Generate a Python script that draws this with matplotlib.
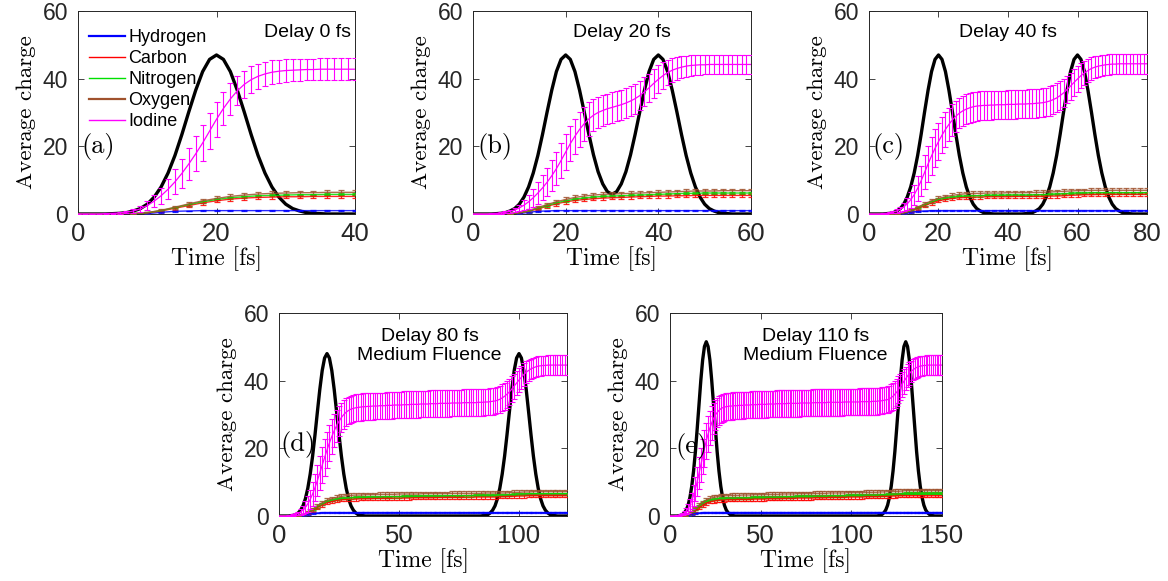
import numpy as np
import matplotlib
matplotlib.use("Agg")
import matplotlib.pyplot as plt
import matplotlib.transforms as mtransforms
from matplotlib.lines import Line2D

# ---------------- DATA ----------------
species = ["Hydrogen", "Carbon", "Nitrogen", "Oxygen", "Iodine"]
delay_labels = ["Delay 0 fs", "Delay 20 fs", "Delay 40 fs",
                "Delay 80 fs\nMedium Fluence", "Delay 110 fs\nMedium Fluence"]
panel_letters = ["(a)", "(b)", "(c)", "(d)", "(e)"]
x_max = [40, 60, 80, 120, 150]
x_ticks = [[0, 20, 40], [0, 20, 40, 60], [0, 20, 40, 60, 80], [0, 50, 100], [0, 50, 100, 150]]
y_ticks = [0, 20, 40, 60]

# ----- Panel (a) -----
iod_a = [0, 0, 0, 0, 0.1, 0.2, 0.3, 0.5, 0.9, 1.5,
         2.5, 3.8, 5.4, 7.3, 9.5, 12.0, 14.8, 17.8, 21.0, 24.5,
         28.0, 31.2, 34.0, 36.4, 38.3, 39.7, 40.7, 41.4, 41.9, 42.2,
         42.4, 42.5, 42.6, 42.7, 42.7, 42.8, 42.8, 42.8, 42.8, 42.8, 42.8]
iod_a_err = [0, 0, 0, 0, 0.1, 0.1, 0.2, 0.3, 0.5, 0.8,
             1.2, 1.7, 2.3, 3.0, 3.7, 4.3, 4.8, 5.2, 5.4, 5.4,
             5.2, 4.9, 4.6, 4.3, 4.1, 3.9, 3.7, 3.6, 3.5, 3.4,
             3.3, 3.3, 3.3, 3.2, 3.2, 3.2, 3.2, 3.2, 3.2, 3.2, 3.2]
pulse_a = [0, 0, 0, 0, 0, 0.1, 0.2, 0.4, 0.9, 1.6,
           2.9, 5.0, 8.0, 12.1, 17.3, 23.5, 30.2, 36.6, 42.1, 45.7,
           47.0, 45.7, 42.1, 36.6, 30.2, 23.5, 17.3, 12.1, 8.0, 5.0,
           2.9, 1.6, 0.9, 0.4, 0.2, 0.1, 0, 0, 0, 0, 0]
H_a = [0, 0, 0, 0, 0, 0.1, 0.5, 0.8, 0.9, 1.0,
       1.0, 1.0, 1.0, 1.0, 1.0, 1.0, 1.0, 1.0, 1.0, 1.0, 1.0]
H_a_err = [0, 0, 0, 0, 0, 0.05, 0.1, 0.1, 0.1, 0.1,
           0.1, 0.1, 0.1, 0.1, 0.1, 0.1, 0.1, 0.1, 0.1, 0.1, 0.1]
C_a = [0, 0, 0, 0, 0.1, 0.3, 0.9, 1.7, 2.5, 3.3,
       3.9, 4.4, 4.7, 4.9, 5.0, 5.1, 5.1, 5.2, 5.2, 5.2, 5.2]
C_a_err = [0, 0, 0, 0, 0.05, 0.15, 0.3, 0.4, 0.45, 0.5,
           0.5, 0.5, 0.5, 0.5, 0.5, 0.5, 0.5, 0.5, 0.5, 0.5, 0.5]
N_a = [0, 0, 0, 0, 0.1, 0.4, 1.0, 1.9, 2.8, 3.6,
       4.3, 4.8, 5.1, 5.4, 5.5, 5.6, 5.7, 5.7, 5.8, 5.8, 5.8]
N_a_err = [0, 0, 0, 0, 0.05, 0.1, 0.2, 0.25, 0.3, 0.3,
           0.3, 0.3, 0.3, 0.3, 0.3, 0.3, 0.3, 0.3, 0.3, 0.3, 0.3]
O_a = [0, 0, 0, 0, 0.1, 0.4, 1.1, 2.0, 3.0, 3.9,
       4.6, 5.2, 5.6, 5.9, 6.1, 6.2, 6.3, 6.3, 6.4, 6.4, 6.4]
O_a_err = [0, 0, 0, 0, 0.05, 0.2, 0.35, 0.45, 0.5, 0.55,
           0.6, 0.6, 0.6, 0.6, 0.6, 0.6, 0.6, 0.6, 0.6, 0.6, 0.6]

# ----- Panel (b) -----
iod_b = [0, 0, 0, 0, 0.1, 0.2, 0.3, 0.5, 0.8, 1.2,
         1.8, 2.6, 3.6, 4.8, 6.2, 7.7, 9.4, 11.3, 13.4, 15.8,
         18.3, 20.8, 23.0, 25.0, 26.7, 28.1, 29.2, 30.0, 30.6, 31.1,
         31.5, 31.9, 32.3, 32.8, 33.4, 34.1, 35.0, 36.1, 37.3, 38.6,
         39.8, 40.9, 41.8, 42.5, 43.0, 43.4, 43.7, 43.9, 44.0, 44.1,
         44.1, 44.2, 44.2, 44.2, 44.2, 44.2, 44.2, 44.2, 44.2, 44.2, 44.2]
iod_b_err = [0, 0, 0, 0, 0.1, 0.1, 0.2, 0.3, 0.4, 0.7,
             1.0, 1.5, 2.0, 2.6, 3.2, 3.7, 4.2, 4.6, 4.9, 5.1,
             5.2, 5.2, 5.2, 5.1, 5.0, 4.9, 4.8, 4.7, 4.6, 4.5,
             4.5, 4.5, 4.4, 4.4, 4.4, 4.4, 4.3, 4.3, 4.2, 4.2,
             4.1, 4.0, 3.8, 3.6, 3.4, 3.2, 3.1, 3.0, 2.9, 2.9,
             2.8, 2.8, 2.8, 2.8, 2.8, 2.8, 2.8, 2.8, 2.8, 2.8, 2.8]
pulse_b = [0, 0, 0, 0, 0, 0.1, 0.2, 0.4, 0.9, 1.6,
           2.9, 5.0, 8.0, 12.1, 17.3, 23.5, 30.2, 36.6, 42.1, 45.7,
           47.0, 45.7, 42.1, 36.6, 30.2, 23.6, 17.5, 12.5, 8.9, 6.6,
           5.8, 6.6, 8.9, 12.5, 17.5, 23.6, 30.2, 36.6, 42.1, 45.7,
           47.0, 45.7, 42.1, 36.6, 30.2, 23.5, 17.3, 12.1, 8.0, 5.0,
           2.9, 1.6, 0.9, 0.4, 0.2, 0.1, 0, 0, 0, 0, 0]
H_b = [0, 0, 0, 0, 0, 0.1, 0.5, 0.8, 0.9, 1.0,
       1.0, 1.0, 1.0, 1.0, 1.0, 1.0, 1.0, 1.0, 1.0, 1.0,
       1.0, 1.0, 1.0, 1.0, 1.0, 1.0, 1.0, 1.0, 1.0, 1.0, 1.0]
H_b_err = [0, 0, 0, 0, 0, 0.05, 0.1, 0.1, 0.1, 0.1,
           0.1, 0.1, 0.1, 0.1, 0.1, 0.1, 0.1, 0.1, 0.1, 0.1,
           0.1, 0.1, 0.1, 0.1, 0.1, 0.1, 0.1, 0.1, 0.1, 0.1, 0.1]
C_b = [0, 0, 0, 0, 0.1, 0.3, 0.8, 1.5, 2.3, 3.0,
       3.6, 4.0, 4.3, 4.5, 4.7, 4.8, 4.9, 5.0, 5.1, 5.2,
       5.3, 5.3, 5.4, 5.4, 5.5, 5.5, 5.5, 5.5, 5.5, 5.5, 5.5]
C_b_err = [0, 0, 0, 0, 0.05, 0.15, 0.3, 0.4, 0.45, 0.5,
           0.5, 0.5, 0.5, 0.5, 0.5, 0.5, 0.5, 0.5, 0.5, 0.5,
           0.5, 0.5, 0.5, 0.5, 0.5, 0.5, 0.5, 0.5, 0.5, 0.5, 0.5]
N_b = [0, 0, 0, 0, 0.1, 0.4, 0.9, 1.7, 2.5, 3.3,
       3.9, 4.4, 4.7, 5.0, 5.2, 5.3, 5.4, 5.5, 5.6, 5.7,
       5.8, 5.9, 6.0, 6.1, 6.1, 6.2, 6.2, 6.2, 6.2, 6.2, 6.2]
N_b_err = [0, 0, 0, 0, 0.05, 0.1, 0.2, 0.25, 0.3, 0.3,
           0.3, 0.3, 0.3, 0.3, 0.3, 0.3, 0.3, 0.3, 0.3, 0.3,
           0.3, 0.3, 0.3, 0.3, 0.3, 0.3, 0.3, 0.3, 0.3, 0.3, 0.3]
O_b = [0, 0, 0, 0, 0.1, 0.4, 1.0, 1.9, 2.8, 3.6,
       4.3, 4.9, 5.3, 5.6, 5.8, 5.9, 6.0, 6.1, 6.2, 6.3,
       6.4, 6.5, 6.6, 6.7, 6.8, 6.8, 6.8, 6.9, 6.9, 6.9, 6.9]
O_b_err = [0, 0, 0, 0, 0.05, 0.2, 0.35, 0.45, 0.5, 0.55,
           0.6, 0.6, 0.6, 0.6, 0.6, 0.6, 0.6, 0.6, 0.6, 0.6,
           0.6, 0.6, 0.6, 0.6, 0.6, 0.6, 0.6, 0.6, 0.6, 0.6, 0.6]

# ----- Panel (c) -----
iod_c = [0, 0, 0, 0, 0.1, 0.2, 0.4, 0.6, 0.9, 1.4,
         2.1, 3.0, 4.2, 5.7, 7.6, 9.8, 12.3, 14.8, 17.2, 19.4,
         21.4, 23.3, 25.0, 26.5, 27.8, 28.9, 29.8, 30.5, 31.0, 31.4,
         31.7, 31.9, 32.0, 32.1, 32.1, 32.2, 32.2, 32.3, 32.3, 32.3,
         32.4, 32.4, 32.4, 32.5, 32.5, 32.5, 32.6, 32.6, 32.7, 32.8,
         32.9, 33.1, 33.4, 33.8, 34.3, 35.0, 35.8, 36.8, 37.8, 38.9,
         39.9, 40.9, 41.7, 42.4, 43.0, 43.4, 43.7, 43.9, 44.1, 44.2,
         44.3, 44.3, 44.4, 44.4, 44.4, 44.4, 44.4, 44.4, 44.4, 44.4, 44.4]
iod_c_err = [0, 0, 0, 0, 0.1, 0.1, 0.2, 0.3, 0.5, 0.8,
             1.2, 1.7, 2.3, 3.0, 3.7, 4.4, 5.0, 5.4, 5.6, 5.6,
             5.5, 5.3, 5.1, 4.9, 4.7, 4.6, 4.5, 4.5, 4.4, 4.4,
             4.4, 4.3, 4.3, 4.3, 4.3, 4.3, 4.2, 4.2, 4.2, 4.2,
             4.2, 4.2, 4.2, 4.2, 4.2, 4.2, 4.2, 4.2, 4.2, 4.2,
             4.2, 4.2, 4.3, 4.3, 4.3, 4.3, 4.2, 4.1, 4.0, 3.9,
             3.8, 3.6, 3.5, 3.4, 3.3, 3.2, 3.1, 3.1, 3.0, 3.0,
             3.0, 3.0, 3.0, 3.0, 3.0, 3.0, 3.0, 3.0, 3.0, 3.0, 3.0]
pulse_c = [0, 0, 0, 0, 0, 0.1, 0.2, 0.4, 0.9, 1.6,
           2.9, 5.0, 8.0, 12.1, 17.3, 23.5, 30.2, 36.6, 42.1, 45.7,
           47.0, 45.7, 42.1, 36.6, 30.2, 23.5, 17.3, 12.1, 8.0, 5.0,
           2.9, 1.6, 0.9, 0.4, 0.2, 0.1, 0, 0, 0, 0,
           0, 0, 0, 0, 0, 0.1, 0.2, 0.4, 0.9, 1.6,
           2.9, 5.0, 8.0, 12.1, 17.3, 23.5, 30.2, 36.6, 42.1, 45.7,
           47.0, 45.7, 42.1, 36.6, 30.2, 23.5, 17.3, 12.1, 8.0, 5.0,
           2.9, 1.6, 0.9, 0.4, 0.2, 0.1, 0, 0, 0, 0, 0]
H_c = [0, 0, 0, 0, 0, 0.1, 0.5, 0.8, 0.9, 1.0,
       1.0, 1.0, 1.0, 1.0, 1.0, 1.0, 1.0, 1.0, 1.0, 1.0,
       1.0, 1.0, 1.0, 1.0, 1.0, 1.0, 1.0, 1.0, 1.0, 1.0,
       1.0, 1.0, 1.0, 1.0, 1.0, 1.0, 1.0, 1.0, 1.0, 1.0, 1.0]
H_c_err = [0, 0, 0, 0, 0, 0.05, 0.1, 0.1, 0.1, 0.1,
           0.1, 0.1, 0.1, 0.1, 0.1, 0.1, 0.1, 0.1, 0.1, 0.1,
           0.1, 0.1, 0.1, 0.1, 0.1, 0.1, 0.1, 0.1, 0.1, 0.1,
           0.1, 0.1, 0.1, 0.1, 0.1, 0.1, 0.1, 0.1, 0.1, 0.1, 0.1]
C_c = [0, 0, 0, 0, 0.1, 0.3, 0.9, 1.7, 2.5, 3.3,
       3.9, 4.3, 4.6, 4.8, 4.9, 5.0, 5.0, 5.1, 5.1, 5.1,
       5.1, 5.2, 5.2, 5.2, 5.2, 5.2, 5.3, 5.3, 5.4, 5.5,
       5.6, 5.7, 5.7, 5.8, 5.8, 5.8, 5.8, 5.8, 5.8, 5.8, 5.8]
C_c_err = [0, 0, 0, 0, 0.05, 0.15, 0.3, 0.4, 0.45, 0.5,
           0.5, 0.5, 0.5, 0.5, 0.5, 0.5, 0.5, 0.5, 0.5, 0.5,
           0.5, 0.5, 0.5, 0.5, 0.5, 0.5, 0.5, 0.5, 0.5, 0.5,
           0.5, 0.5, 0.5, 0.5, 0.5, 0.5, 0.5, 0.5, 0.5, 0.5, 0.5]
N_c = [0, 0, 0, 0, 0.1, 0.4, 1.0, 1.9, 2.8, 3.6,
       4.3, 4.7, 5.0, 5.2, 5.3, 5.4, 5.4, 5.5, 5.5, 5.5,
       5.6, 5.6, 5.6, 5.6, 5.7, 5.7, 5.8, 5.9, 6.0, 6.1,
       6.2, 6.2, 6.3, 6.3, 6.3, 6.3, 6.3, 6.3, 6.3, 6.3, 6.3]
N_c_err = [0, 0, 0, 0, 0.05, 0.1, 0.2, 0.25, 0.3, 0.3,
           0.3, 0.3, 0.3, 0.3, 0.3, 0.3, 0.3, 0.3, 0.3, 0.3,
           0.3, 0.3, 0.3, 0.3, 0.3, 0.3, 0.3, 0.3, 0.3, 0.3,
           0.3, 0.3, 0.3, 0.3, 0.3, 0.3, 0.3, 0.3, 0.3, 0.3, 0.3]
O_c = [0, 0, 0, 0, 0.1, 0.4, 1.1, 2.0, 3.0, 3.9,
       4.6, 5.1, 5.5, 5.8, 6.0, 6.1, 6.1, 6.2, 6.2, 6.2,
       6.3, 6.3, 6.3, 6.3, 6.4, 6.4, 6.5, 6.6, 6.7, 6.8,
       6.9, 6.9, 7.0, 7.0, 7.0, 7.0, 7.0, 7.0, 7.0, 7.0, 7.0]
O_c_err = [0, 0, 0, 0, 0.05, 0.2, 0.35, 0.45, 0.5, 0.55,
           0.6, 0.6, 0.6, 0.6, 0.6, 0.6, 0.6, 0.6, 0.6, 0.6,
           0.6, 0.6, 0.6, 0.6, 0.6, 0.6, 0.6, 0.6, 0.6, 0.6,
           0.6, 0.6, 0.6, 0.6, 0.6, 0.6, 0.6, 0.6, 0.6, 0.6, 0.6]

# ----- Panel (d) -----
iod_d = [0, 0, 0, 0, 0.1, 0.2, 0.3, 0.5, 0.8, 1.2,
         1.8, 2.6, 3.6, 4.9, 6.5, 8.4, 10.5, 12.7, 15.0, 17.3,
         19.5, 21.6, 23.5, 25.2, 26.7, 28.0, 29.1, 30.0, 30.7, 31.2,
         31.6, 31.8, 32.0, 32.1, 32.2, 32.3, 32.3, 32.4, 32.4, 32.5,
         32.5, 32.5, 32.6, 32.6, 32.6, 32.7, 32.7, 32.7, 32.8, 32.8,
         32.8, 32.8, 32.9, 32.9, 32.9, 33.0, 33.0, 33.0, 33.0, 33.1,
         33.1, 33.1, 33.1, 33.2, 33.2, 33.2, 33.2, 33.3, 33.3, 33.3,
         33.3, 33.3, 33.4, 33.4, 33.4, 33.4, 33.4, 33.5, 33.5, 33.5,
         33.5, 33.5, 33.5, 33.6, 33.6, 33.6, 33.7, 33.7, 33.8, 33.9,
         34.0, 34.2, 34.5, 34.9, 35.4, 36.0, 36.7, 37.5, 38.4, 39.3,
         40.2, 41.0, 41.8, 42.5, 43.0, 43.5, 43.8, 44.1, 44.3, 44.4,
         44.5, 44.5, 44.6, 44.6, 44.6, 44.6, 44.6, 44.6, 44.6, 44.6, 44.6]
iod_d_err = [0, 0, 0, 0, 0.1, 0.1, 0.2, 0.3, 0.5, 0.8,
             1.2, 1.7, 2.3, 2.9, 3.5, 4.1, 4.6, 5.0, 5.3, 5.4,
             5.4, 5.3, 5.1, 4.9, 4.7, 4.5, 4.4, 4.3, 4.2, 4.1,
             4.0, 4.0, 4.0, 4.0, 4.0, 4.0, 4.0, 4.0, 4.0, 4.0,
             3.9, 3.9, 3.9, 3.9, 3.9, 3.9, 3.9, 3.9, 3.9, 3.9,
             3.9, 3.9, 3.9, 3.9, 3.9, 3.9, 3.9, 3.9, 3.9, 3.9,
             3.9, 3.9, 3.9, 3.9, 3.9, 3.9, 3.9, 3.9, 3.9, 3.9,
             3.9, 3.9, 3.9, 3.9, 3.9, 3.9, 3.9, 3.9, 3.9, 3.9,
             3.9, 3.9, 3.9, 3.9, 3.9, 3.9, 3.9, 3.9, 3.9, 3.9,
             3.9, 3.9, 4.0, 4.0, 4.0, 4.0, 3.9, 3.8, 3.7, 3.6,
             3.5, 3.4, 3.3, 3.2, 3.1, 3.0, 3.0, 2.9, 2.9, 2.9,
             2.9, 2.9, 2.9, 2.9, 2.9, 2.9, 2.9, 2.9, 2.9, 2.9, 2.9]
pulse_d = [0, 0, 0, 0, 0, 0.1, 0.2, 0.4, 0.9, 1.7,
           3.0, 5.1, 8.2, 12.4, 17.7, 24.0, 30.8, 37.4, 43.0, 46.7,
           48.0, 46.7, 43.0, 37.4, 30.8, 24.0, 17.7, 12.4, 8.2, 5.1,
           3.0, 1.7, 0.9, 0.4, 0.2, 0.1, 0, 0, 0, 0,
           0, 0, 0, 0, 0, 0, 0, 0, 0, 0,
           0, 0, 0, 0, 0, 0, 0, 0, 0, 0,
           0, 0, 0, 0, 0, 0, 0, 0, 0, 0,
           0, 0, 0, 0, 0, 0, 0, 0, 0, 0,
           0, 0, 0, 0, 0, 0.1, 0.2, 0.4, 0.9, 1.7,
           3.0, 5.1, 8.2, 12.4, 17.7, 24.0, 30.8, 37.4, 43.0, 46.7,
           48.0, 46.7, 43.0, 37.4, 30.8, 24.0, 17.7, 12.4, 8.2, 5.1,
           3.0, 1.7, 0.9, 0.4, 0.2, 0.1, 0, 0, 0, 0, 0]
H_d = [0, 0, 0, 0, 0, 0.1, 0.5, 0.8, 0.9, 1.0,
       1.0, 1.0, 1.0, 1.0, 1.0, 1.0, 1.0, 1.0, 1.0, 1.0,
       1.0, 1.0, 1.0, 1.0, 1.0, 1.0, 1.0, 1.0, 1.0, 1.0,
       1.0, 1.0, 1.0, 1.0, 1.0, 1.0, 1.0, 1.0, 1.0, 1.0,
       1.0, 1.0, 1.0, 1.0, 1.0, 1.0, 1.0, 1.0, 1.0, 1.0,
       1.0, 1.0, 1.0, 1.0, 1.0, 1.0, 1.0, 1.0, 1.0, 1.0, 1.0]
H_d_err = [0, 0, 0, 0, 0, 0.05, 0.1, 0.1, 0.1, 0.1,
           0.1, 0.1, 0.1, 0.1, 0.1, 0.1, 0.1, 0.1, 0.1, 0.1,
           0.1, 0.1, 0.1, 0.1, 0.1, 0.1, 0.1, 0.1, 0.1, 0.1,
           0.1, 0.1, 0.1, 0.1, 0.1, 0.1, 0.1, 0.1, 0.1, 0.1,
           0.1, 0.1, 0.1, 0.1, 0.1, 0.1, 0.1, 0.1, 0.1, 0.1,
           0.1, 0.1, 0.1, 0.1, 0.1, 0.1, 0.1, 0.1, 0.1, 0.1, 0.1]
C_d = [0, 0, 0, 0, 0.1, 0.3, 0.9, 1.7, 2.5, 3.3,
       3.9, 4.3, 4.6, 4.8, 4.9, 5.0, 5.0, 5.1, 5.1, 5.1,
       5.2, 5.2, 5.2, 5.2, 5.3, 5.3, 5.3, 5.3, 5.4, 5.4,
       5.4, 5.4, 5.4, 5.5, 5.5, 5.5, 5.5, 5.5, 5.5, 5.6,
       5.6, 5.6, 5.6, 5.6, 5.6, 5.6, 5.7, 5.7, 5.8, 5.8,
       5.9, 5.9, 6.0, 6.0, 6.0, 6.0, 6.0, 6.0, 6.0, 6.0, 6.0]
C_d_err = [0, 0, 0, 0, 0.05, 0.15, 0.3, 0.4, 0.45, 0.5,
           0.5, 0.5, 0.5, 0.5, 0.5, 0.5, 0.5, 0.5, 0.5, 0.5,
           0.5, 0.5, 0.5, 0.5, 0.5, 0.5, 0.5, 0.5, 0.5, 0.5,
           0.5, 0.5, 0.5, 0.5, 0.5, 0.5, 0.5, 0.5, 0.5, 0.5,
           0.5, 0.5, 0.5, 0.5, 0.5, 0.5, 0.5, 0.5, 0.5, 0.5,
           0.5, 0.5, 0.5, 0.5, 0.5, 0.5, 0.5, 0.5, 0.5, 0.5, 0.5]
N_d = [0, 0, 0, 0, 0.1, 0.4, 1.0, 1.9, 2.8, 3.6,
       4.3, 4.7, 5.0, 5.2, 5.3, 5.4, 5.5, 5.5, 5.5, 5.6,
       5.6, 5.6, 5.7, 5.7, 5.7, 5.7, 5.8, 5.8, 5.8, 5.8,
       5.9, 5.9, 5.9, 5.9, 5.9, 6.0, 6.0, 6.0, 6.0, 6.0,
       6.0, 6.1, 6.1, 6.1, 6.1, 6.1, 6.2, 6.2, 6.3, 6.4,
       6.5, 6.5, 6.6, 6.6, 6.6, 6.6, 6.6, 6.6, 6.6, 6.6, 6.6]
N_d_err = [0, 0, 0, 0, 0.05, 0.1, 0.2, 0.25, 0.3, 0.3,
           0.3, 0.3, 0.3, 0.3, 0.3, 0.3, 0.3, 0.3, 0.3, 0.3,
           0.3, 0.3, 0.3, 0.3, 0.3, 0.3, 0.3, 0.3, 0.3, 0.3,
           0.3, 0.3, 0.3, 0.3, 0.3, 0.3, 0.3, 0.3, 0.3, 0.3,
           0.3, 0.3, 0.3, 0.3, 0.3, 0.3, 0.3, 0.3, 0.3, 0.3,
           0.3, 0.3, 0.3, 0.3, 0.3, 0.3, 0.3, 0.3, 0.3, 0.3, 0.3]
O_d = [0, 0, 0, 0, 0.1, 0.4, 1.1, 2.0, 3.0, 3.9,
       4.6, 5.1, 5.5, 5.8, 6.0, 6.1, 6.2, 6.2, 6.3, 6.3,
       6.3, 6.4, 6.4, 6.4, 6.4, 6.5, 6.5, 6.5, 6.5, 6.5,
       6.6, 6.6, 6.6, 6.6, 6.6, 6.6, 6.7, 6.7, 6.7, 6.7,
       6.7, 6.7, 6.7, 6.8, 6.8, 6.8, 6.8, 6.8, 6.9, 7.0,
       7.0, 7.1, 7.1, 7.2, 7.2, 7.2, 7.2, 7.2, 7.2, 7.2, 7.2]
O_d_err = [0, 0, 0, 0, 0.05, 0.2, 0.35, 0.45, 0.5, 0.55,
           0.6, 0.6, 0.6, 0.6, 0.6, 0.6, 0.6, 0.6, 0.6, 0.6,
           0.6, 0.6, 0.6, 0.6, 0.6, 0.6, 0.6, 0.6, 0.6, 0.6,
           0.6, 0.6, 0.6, 0.6, 0.6, 0.6, 0.6, 0.6, 0.6, 0.6,
           0.6, 0.6, 0.6, 0.6, 0.6, 0.6, 0.6, 0.6, 0.6, 0.6,
           0.6, 0.6, 0.6, 0.6, 0.6, 0.6, 0.6, 0.6, 0.6, 0.6, 0.6]

# ----- Panel (e) -----
iod_e = [0, 0, 0, 0, 0.1, 0.2, 0.4, 0.6, 1.0, 1.5,
         2.2, 3.2, 4.5, 6.1, 8.0, 10.2, 12.6, 15.1, 17.6, 20.0,
         22.2, 24.2, 26.0, 27.5, 28.8, 29.8, 30.6, 31.2, 31.7, 32.0,
         32.2, 32.3, 32.4, 32.5, 32.5, 32.6, 32.6, 32.6, 32.7, 32.7,
         32.7, 32.8, 32.8, 32.8, 32.8, 32.9, 32.9, 32.9, 32.9, 33.0,
         33.0, 33.0, 33.0, 33.0, 33.1, 33.1, 33.1, 33.1, 33.1, 33.2,
         33.2, 33.2, 33.2, 33.2, 33.2, 33.3, 33.3, 33.3, 33.3, 33.3,
         33.3, 33.3, 33.4, 33.4, 33.4, 33.4, 33.4, 33.4, 33.4, 33.5,
         33.5, 33.5, 33.5, 33.5, 33.5, 33.5, 33.5, 33.6, 33.6, 33.6,
         33.6, 33.6, 33.6, 33.6, 33.6, 33.6, 33.7, 33.7, 33.7, 33.7,
         33.7, 33.7, 33.7, 33.7, 33.7, 33.8, 33.8, 33.8, 33.8, 33.8,
         33.8, 33.8, 33.9, 33.9, 33.9, 34.0, 34.0, 34.1, 34.2, 34.3,
         34.4, 34.6, 35.0, 35.4, 36.0, 36.6, 37.4, 38.2, 39.0, 39.8,
         40.6, 41.4, 42.1, 42.7, 43.2, 43.6, 43.9, 44.1, 44.3, 44.4,
         44.5, 44.5, 44.6, 44.6, 44.6, 44.6, 44.6, 44.6, 44.6, 44.6, 44.6]
iod_e_err = [0, 0, 0, 0, 0.1, 0.1, 0.2, 0.3, 0.5, 0.8,
             1.2, 1.7, 2.3, 3.0, 3.6, 4.2, 4.7, 5.1, 5.3, 5.4,
             5.4, 5.3, 5.1, 4.9, 4.7, 4.5, 4.4, 4.3, 4.2, 4.1,
             4.0, 4.0, 4.0, 4.0, 4.0, 4.0, 4.0, 4.0, 4.0, 4.0,
             3.9, 3.9, 3.9, 3.9, 3.9, 3.9, 3.9, 3.9, 3.9, 3.9,
             3.9, 3.9, 3.9, 3.9, 3.9, 3.9, 3.9, 3.9, 3.9, 3.9,
             3.9, 3.9, 3.9, 3.9, 3.9, 3.9, 3.9, 3.9, 3.9, 3.9,
             3.9, 3.9, 3.9, 3.9, 3.9, 3.9, 3.9, 3.9, 3.9, 3.9,
             3.9, 3.9, 3.9, 3.9, 3.9, 3.9, 3.9, 3.9, 3.9, 3.9,
             3.9, 3.9, 3.9, 3.9, 3.9, 3.9, 3.9, 3.9, 3.9, 3.9,
             3.9, 3.9, 3.9, 3.9, 3.9, 3.9, 3.9, 3.9, 3.9, 3.9,
             3.9, 3.9, 3.9, 3.9, 3.9, 3.9, 3.9, 3.9, 3.9, 3.9,
             3.9, 3.9, 4.0, 4.0, 4.0, 4.0, 3.9, 3.8, 3.7, 3.6,
             3.5, 3.4, 3.3, 3.2, 3.1, 3.0, 3.0, 2.9, 2.9, 2.9,
             2.9, 2.9, 2.9, 2.9, 2.9, 2.9, 2.9, 2.9, 2.9, 2.9, 2.9]
pulse_e = [0, 0, 0, 0, 0, 0.1, 0.2, 0.5, 1.0, 1.8,
           3.2, 5.5, 8.8, 13.3, 19.0, 25.8, 33.1, 40.1, 46.1, 50.1,
           51.5, 50.1, 46.1, 40.1, 33.1, 25.8, 19.0, 13.3, 8.8, 5.5,
           3.2, 1.8, 1.0, 0.5, 0.2, 0.1, 0, 0, 0, 0,
           0, 0, 0, 0, 0, 0, 0, 0, 0, 0,
           0, 0, 0, 0, 0, 0, 0, 0, 0, 0,
           0, 0, 0, 0, 0, 0, 0, 0, 0, 0,
           0, 0, 0, 0, 0, 0, 0, 0, 0, 0,
           0, 0, 0, 0, 0, 0, 0, 0, 0, 0,
           0, 0, 0, 0, 0, 0, 0, 0, 0, 0,
           0, 0, 0, 0, 0, 0, 0, 0, 0, 0,
           0, 0, 0, 0, 0, 0.1, 0.2, 0.5, 1.0, 1.8,
           3.2, 5.5, 8.8, 13.3, 19.0, 25.8, 33.1, 40.1, 46.1, 50.1,
           51.5, 50.1, 46.1, 40.1, 33.1, 25.8, 19.0, 13.3, 8.8, 5.5,
           3.2, 1.8, 1.0, 0.5, 0.2, 0.1, 0, 0, 0, 0, 0]
H_e = [0, 0, 0, 0, 0, 0.1, 0.5, 0.8, 0.9, 1.0,
       1.0, 1.0, 1.0, 1.0, 1.0, 1.0, 1.0, 1.0, 1.0, 1.0,
       1.0, 1.0, 1.0, 1.0, 1.0, 1.0, 1.0, 1.0, 1.0, 1.0,
       1.0, 1.0, 1.0, 1.0, 1.0, 1.0, 1.0, 1.0, 1.0, 1.0,
       1.0, 1.0, 1.0, 1.0, 1.0, 1.0, 1.0, 1.0, 1.0, 1.0,
       1.0, 1.0, 1.0, 1.0, 1.0, 1.0, 1.0, 1.0, 1.0, 1.0,
       1.0, 1.0, 1.0, 1.0, 1.0, 1.0, 1.0, 1.0, 1.0, 1.0,
       1.0, 1.0, 1.0, 1.0, 1.0, 1.0]
H_e_err = [0, 0, 0, 0, 0, 0.05, 0.1, 0.1, 0.1, 0.1,
           0.1, 0.1, 0.1, 0.1, 0.1, 0.1, 0.1, 0.1, 0.1, 0.1,
           0.1, 0.1, 0.1, 0.1, 0.1, 0.1, 0.1, 0.1, 0.1, 0.1,
           0.1, 0.1, 0.1, 0.1, 0.1, 0.1, 0.1, 0.1, 0.1, 0.1,
           0.1, 0.1, 0.1, 0.1, 0.1, 0.1, 0.1, 0.1, 0.1, 0.1,
           0.1, 0.1, 0.1, 0.1, 0.1, 0.1, 0.1, 0.1, 0.1, 0.1,
           0.1, 0.1, 0.1, 0.1, 0.1, 0.1, 0.1, 0.1, 0.1, 0.1,
           0.1, 0.1, 0.1, 0.1, 0.1, 0.1]
C_e = [0, 0, 0, 0, 0.1, 0.3, 0.9, 1.7, 2.5, 3.2,
       3.8, 4.2, 4.4, 4.6, 4.7, 4.7, 4.8, 4.8, 4.8, 4.9,
       4.9, 4.9, 4.9, 5.0, 5.0, 5.0, 5.0, 5.1, 5.1, 5.1,
       5.1, 5.2, 5.2, 5.2, 5.2, 5.3, 5.3, 5.3, 5.3, 5.3,
       5.4, 5.4, 5.4, 5.4, 5.5, 5.5, 5.5, 5.5, 5.5, 5.6,
       5.6, 5.6, 5.6, 5.6, 5.7, 5.7, 5.7, 5.7, 5.8, 5.8,
       5.8, 5.9, 5.9, 6.0, 6.0, 6.0, 6.0, 6.0, 6.0, 6.0,
       6.0, 6.0, 6.0, 6.0, 6.0, 6.0]
C_e_err = [0, 0, 0, 0, 0.05, 0.15, 0.3, 0.4, 0.45, 0.5,
           0.5, 0.5, 0.5, 0.5, 0.5, 0.5, 0.5, 0.5, 0.5, 0.5,
           0.5, 0.5, 0.5, 0.5, 0.5, 0.5, 0.5, 0.5, 0.5, 0.5,
           0.5, 0.5, 0.5, 0.5, 0.5, 0.5, 0.5, 0.5, 0.5, 0.5,
           0.5, 0.5, 0.5, 0.5, 0.5, 0.5, 0.5, 0.5, 0.5, 0.5,
           0.5, 0.5, 0.5, 0.5, 0.5, 0.5, 0.5, 0.5, 0.5, 0.5,
           0.5, 0.5, 0.5, 0.5, 0.5, 0.5, 0.5, 0.5, 0.5, 0.5,
           0.5, 0.5, 0.5, 0.5, 0.5, 0.5]
N_e = [0, 0, 0, 0, 0.1, 0.4, 1.1, 2.0, 2.9, 3.7,
       4.3, 4.7, 4.9, 5.1, 5.2, 5.2, 5.3, 5.3, 5.3, 5.4,
       5.4, 5.4, 5.4, 5.5, 5.5, 5.5, 5.5, 5.6, 5.6, 5.6,
       5.6, 5.7, 5.7, 5.7, 5.7, 5.8, 5.8, 5.8, 5.8, 5.8,
       5.9, 5.9, 5.9, 5.9, 6.0, 6.0, 6.0, 6.0, 6.0, 6.1,
       6.1, 6.1, 6.1, 6.1, 6.2, 6.2, 6.2, 6.2, 6.3, 6.3,
       6.4, 6.4, 6.5, 6.5, 6.6, 6.7, 6.7, 6.7, 6.7, 6.7,
       6.7, 6.7, 6.7, 6.7, 6.7, 6.7]
N_e_err = [0, 0, 0, 0, 0.05, 0.1, 0.2, 0.25, 0.3, 0.3,
           0.3, 0.3, 0.3, 0.3, 0.3, 0.3, 0.3, 0.3, 0.3, 0.3,
           0.3, 0.3, 0.3, 0.3, 0.3, 0.3, 0.3, 0.3, 0.3, 0.3,
           0.3, 0.3, 0.3, 0.3, 0.3, 0.3, 0.3, 0.3, 0.3, 0.3,
           0.3, 0.3, 0.3, 0.3, 0.3, 0.3, 0.3, 0.3, 0.3, 0.3,
           0.3, 0.3, 0.3, 0.3, 0.3, 0.3, 0.3, 0.3, 0.3, 0.3,
           0.3, 0.3, 0.3, 0.3, 0.3, 0.3, 0.3, 0.3, 0.3, 0.3,
           0.3, 0.3, 0.3, 0.3, 0.3, 0.3]
O_e = [0, 0, 0, 0, 0.1, 0.5, 1.2, 2.2, 3.2, 4.0,
       4.7, 5.2, 5.5, 5.7, 5.9, 6.0, 6.0, 6.1, 6.1, 6.1,
       6.2, 6.2, 6.2, 6.3, 6.3, 6.3, 6.3, 6.4, 6.4, 6.4,
       6.4, 6.5, 6.5, 6.5, 6.5, 6.6, 6.6, 6.6, 6.6, 6.6,
       6.7, 6.7, 6.7, 6.7, 6.8, 6.8, 6.8, 6.8, 6.8, 6.9,
       6.9, 6.9, 6.9, 6.9, 7.0, 7.0, 7.0, 7.0, 7.1, 7.1,
       7.2, 7.2, 7.3, 7.3, 7.4, 7.5, 7.5, 7.5, 7.5, 7.5,
       7.5, 7.5, 7.5, 7.5, 7.5, 7.5]
O_e_err = [0, 0, 0, 0, 0.05, 0.2, 0.35, 0.45, 0.5, 0.55,
           0.6, 0.6, 0.6, 0.6, 0.6, 0.6, 0.6, 0.6, 0.6, 0.6,
           0.6, 0.6, 0.6, 0.6, 0.6, 0.6, 0.6, 0.6, 0.6, 0.6,
           0.6, 0.6, 0.6, 0.6, 0.6, 0.6, 0.6, 0.6, 0.6, 0.6,
           0.6, 0.6, 0.6, 0.6, 0.6, 0.6, 0.6, 0.6, 0.6, 0.6,
           0.6, 0.6, 0.6, 0.6, 0.6, 0.6, 0.6, 0.6, 0.6, 0.6,
           0.6, 0.6, 0.6, 0.6, 0.6, 0.6, 0.6, 0.6, 0.6, 0.6,
           0.6, 0.6, 0.6, 0.6, 0.6, 0.6]

panels = [
    dict(iod=iod_a, iod_err=iod_a_err, pulse=pulse_a,
         light=[(H_a, H_a_err), (C_a, C_a_err), (N_a, N_a_err), (O_a, O_a_err)]),
    dict(iod=iod_b, iod_err=iod_b_err, pulse=pulse_b,
         light=[(H_b, H_b_err), (C_b, C_b_err), (N_b, N_b_err), (O_b, O_b_err)]),
    dict(iod=iod_c, iod_err=iod_c_err, pulse=pulse_c,
         light=[(H_c, H_c_err), (C_c, C_c_err), (N_c, N_c_err), (O_c, O_c_err)]),
    dict(iod=iod_d, iod_err=iod_d_err, pulse=pulse_d,
         light=[(H_d, H_d_err), (C_d, C_d_err), (N_d, N_d_err), (O_d, O_d_err)]),
    dict(iod=iod_e, iod_err=iod_e_err, pulse=pulse_e,
         light=[(H_e, H_e_err), (C_e, C_e_err), (N_e, N_e_err), (O_e, O_e_err)]),
]

# ---------------- STYLE ----------------
colors = {"Hydrogen": "#0000ff", "Carbon": "#ff0000", "Nitrogen": "#00e000",
          "Oxygen": "#a0522d", "Iodine": "#ff00ff"}
SANS = "Liberation Sans"
SERIF = "cmr10"
AXC = "#262626"

W, H = 1168, 581
# axes boxes in pixels: left, top, right, bottom
boxes = [(78, 11, 355, 214), (473, 11, 751, 214), (869, 11, 1147, 214),
         (279, 313, 567, 516), (670, 313, 942, 516)]
letter_pos = [(0.012, 20), (0.015, 20), (0.012, 20), (0.004, 21), (0.018, 20.4)]
delay_pos = [(0.985, 0.893, "right"), (0.536, 0.893, "center"), (0.50, 0.893, "center"),
             (0.523, 0.837, "center"), (0.535, 0.837, "center")]

fig = plt.figure(figsize=(W / 100, H / 100), dpi=100)

for i, p in enumerate(panels):
    l, t, r, b = boxes[i]
    ax = fig.add_axes([l / W, (H - b) / H, (r - l) / W, (b - t) / H])
    t_iod = np.arange(len(p["iod"]))
    t_light = 2 * np.arange(len(p["light"][0][0]))

    ax.plot(np.arange(len(p["pulse"])), p["pulse"], color="black", lw=2.4, zorder=2,
            solid_joinstyle="round")

    for (vals, errs), name in zip(p["light"], species[:4]):
        c = colors[name]
        ax.errorbar(t_light, vals, yerr=errs, color=c, lw=1.0, elinewidth=0.9,
                    capsize=2.2, capthick=0.9, alpha=0.85, zorder=3)

    ax.errorbar(t_iod, p["iod"], yerr=p["iod_err"], color=colors["Iodine"], lw=0.9,
                elinewidth=0.8, capsize=2.2, capthick=0.8, zorder=4)

    ax.set_xlim(0, x_max[i])
    ax.set_ylim(0, 60)
    ax.set_xticks(x_ticks[i])
    ax.set_yticks(y_ticks)
    ax.tick_params(direction="in", length=4, width=0.6, colors=AXC, top=True, right=True)
    ax.tick_params(axis="x", labelsize=18.5, pad=6)
    ax.tick_params(axis="y", labelsize=16.5, pad=7)
    for lab in ax.get_xticklabels() + ax.get_yticklabels():
        lab.set_fontfamily(SANS)
    for s in ax.spines.values():
        s.set_color(AXC)
        s.set_linewidth(0.7)
    ax.set_xlabel("Time [fs]", fontfamily=SERIF, fontsize=17, labelpad=0)
    ax.set_ylabel("Average charge", fontfamily=SERIF, fontsize=16.5, labelpad=5)

    lx, ly = letter_pos[i]
    ax.text(lx, ly, panel_letters[i],
            transform=mtransforms.blended_transform_factory(ax.transAxes, ax.transData),
            fontfamily=SERIF, fontsize=19, va="center", ha="left", zorder=6)
    dx, dy, ha = delay_pos[i]
    ax.text(dx, dy, delay_labels[i], transform=ax.transAxes, fontfamily=SANS,
            fontsize=14, ha=ha, va="center", linespacing=1.12, zorder=6)

    if i == 0:
        handles = [Line2D([], [], color=colors[n], lw=1.6 if n in ("Hydrogen", "Oxygen") else 1.0)
                   for n in species]
        ax.legend(handles, species, loc="upper left", frameon=False,
                  prop={"family": SANS, "size": 13}, handlelength=2.0,
                  handletextpad=0.2, labelspacing=0.22, borderaxespad=0.0,
                  bbox_to_anchor=(0.012, 0.945))

fig.savefig("out.png", dpi=100)
